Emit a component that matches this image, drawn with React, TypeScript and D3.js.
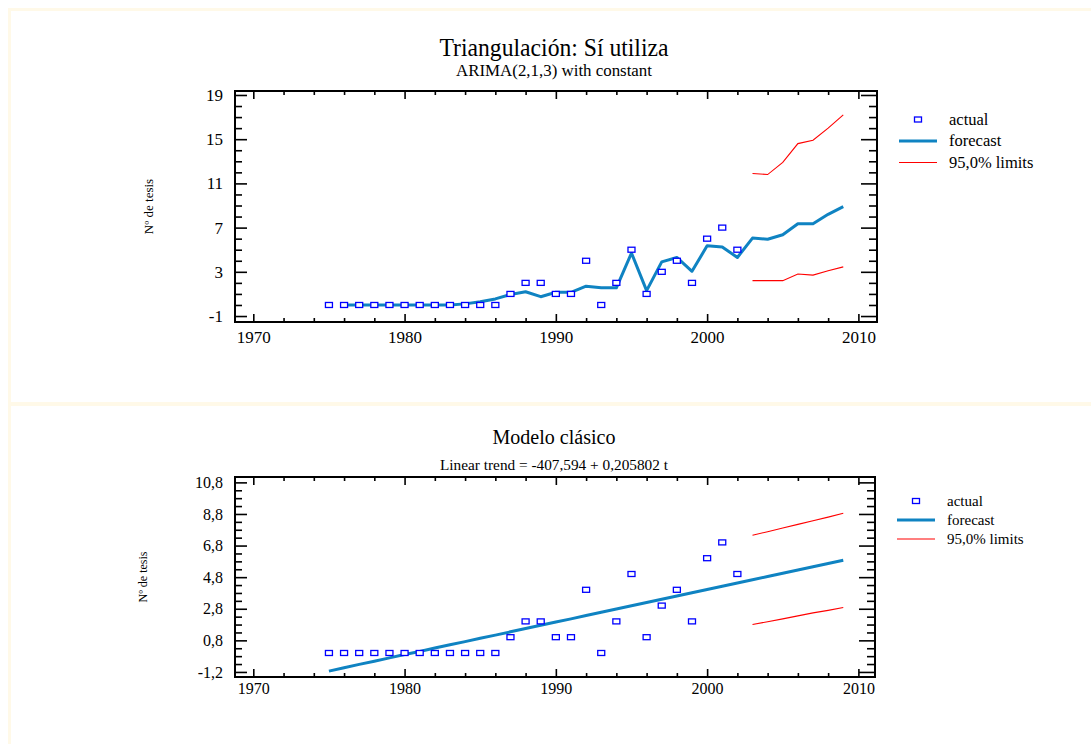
import * as d3 from "d3";
import React, { useEffect, useRef } from "react";

// observed series (same for both panels)
const actualYears = d3.range(1975, 2003);
const actualValues = [
  0, 0, 0, 0, 0, 0, 0, 0, 0, 0, 0, 0, 1, 2, 2, 1, 1, 4, 0, 2, 5, 1, 3, 4, 2, 6, 7, 5,
];

// ARIMA(2,1,3) panel
const arimaYears = d3.range(1976, 2010);
const arimaForecast = [
  0, 0, 0, 0, 0, 0, 0, 0, 0.1, 0.3, 0.55, 0.95, 1.2, 0.75, 1.15, 1.15, 1.7, 1.55,
  1.55, 4.7, 1.3, 3.9, 4.3, 3.05, 5.35, 5.25, 4.3, 6.05, 5.95, 6.35, 7.35, 7.35,
  8.2, 8.9,
];
const limitYears = d3.range(2003, 2010);
const arimaUpper = [11.9, 11.8, 12.9, 14.6, 14.9, 16.0, 17.2];
const arimaLower = [2.2, 2.2, 2.2, 2.8, 2.7, 3.1, 3.45];

// linear trend panel
const trendYears = d3.range(1975, 2010);
const trendForecast = [
  -1.15, -0.93, -0.72, -0.52, -0.31, -0.1, 0.1, 0.31, 0.52, 0.72, 0.93, 1.13,
  1.34, 1.55, 1.75, 1.96, 2.16, 2.37, 2.58, 2.78, 2.99, 3.19, 3.4, 3.61, 3.81,
  4.02, 4.22, 4.43, 4.64, 4.84, 5.05, 5.25, 5.46, 5.67, 5.87,
];
const trendUpper = [7.45, 7.68, 7.91, 8.14, 8.37, 8.6, 8.84];
const trendLower = [1.8, 1.98, 2.16, 2.35, 2.54, 2.7, 2.88];

// axis ticks
const xMajorTicks = [1970, 1980, 1990, 2000, 2010];
const xMinorTicks = d3.range(1970, 2011, 2).filter((d) => d % 10 !== 0);
const arimaYTicks = [19, 15, 11, 7, 3, -1];
const arimaYLabels = ["19", "15", "11", "7", "3", "-1"];
const trendYTicks = [10.8, 8.8, 6.8, 4.8, 2.8, 0.8, -1.2];
const trendYLabels = ["10,8", "8,8", "6,8", "4,8", "2,8", "0,8", "-1,2"];
const legendLabels = ["actual", "forecast", "95,0% limits"];

const FONT = "'Liberation Serif', 'Times New Roman', serif";
const FORECAST_COLOR = "#0f83c2";

interface PanelConfig {
  frame: { left: number; right: number; top: number; bottom: number };
  yDomain: [number, number];
  yTicks: number[];
  yLabels: string[];
  yMinor: number[];
  title: string;
  titleY: number;
  titleSize: number;
  titleLen: number;
  subtitle: string;
  subY: number;
  subSize: number;
  subLen: number;
  axisLabelX: number;
  axisLabelSize: number;
  tickFont: number;
  xPad: number;
  forecastYears: number[];
  forecast: number[];
  upper: number[];
  lower: number[];
  legend: { x: number; y: number; step: number; font: number };
}

const panels: PanelConfig[] = [
  {
    frame: { left: 235, right: 877, top: 91, bottom: 322 },
    yDomain: [-1.54, 19.36],
    yTicks: arimaYTicks,
    yLabels: arimaYLabels,
    yMinor: d3.range(-1, 20, 1).filter((d) => !arimaYTicks.includes(d)),
    title: "Triangulación: Sí utiliza",
    titleY: 56,
    titleSize: 25,
    titleLen: 229,
    subtitle: "ARIMA(2,1,3) with constant",
    subY: 76,
    subSize: 16,
    subLen: 196,
    axisLabelX: 148,
    axisLabelSize: 13,
    tickFont: 17,
    xPad: 9,
    forecastYears: arimaYears,
    forecast: arimaForecast,
    upper: arimaUpper,
    lower: arimaLower,
    legend: { x: 899, y: 119.5, step: 21.5, font: 16.5 },
  },
  {
    frame: { left: 235, right: 875, top: 477, bottom: 677 },
    yDomain: [-1.52, 11.14],
    yTicks: trendYTicks,
    yLabels: trendYLabels,
    yMinor: d3
      .range(0, 25)
      .map((i) => Math.round((-1.2 + i * 0.5) * 10) / 10)
      .filter((d) => !trendYTicks.includes(d)),
    title: "Modelo clásico",
    titleY: 444,
    titleSize: 20,
    titleLen: 123,
    subtitle: "Linear trend = -407,594 + 0,205802 t",
    subY: 470,
    subSize: 14.5,
    subLen: 228,
    axisLabelX: 143,
    axisLabelSize: 12,
    tickFont: 16,
    xPad: 6,
    forecastYears: trendYears,
    forecast: trendForecast,
    upper: trendUpper,
    lower: trendLower,
    legend: { x: 897, y: 501, step: 19, font: 15 },
  },
];

function drawPanel(svg: d3.Selection<SVGSVGElement, unknown, null, undefined>, p: PanelConfig) {
  const { frame } = p;
  const x = d3.scaleLinear().domain([1968.79, 2011.23]).range([frame.left, 877]);
  const y = d3.scaleLinear().domain(p.yDomain).range([frame.bottom, frame.top]);
  const cx = (frame.left + 877) / 2 - 2;

  // titles
  svg
    .append("text")
    .attr("x", cx)
    .attr("y", p.titleY)
    .attr("text-anchor", "middle")
    .attr("textLength", p.titleLen)
    .attr("lengthAdjust", "spacingAndGlyphs")
    .style("font-family", FONT)
    .style("font-size", `${p.titleSize}px`)
    .text(p.title);
  svg
    .append("text")
    .attr("x", cx)
    .attr("y", p.subY)
    .attr("text-anchor", "middle")
    .attr("textLength", p.subLen)
    .attr("lengthAdjust", "spacingAndGlyphs")
    .style("font-family", FONT)
    .style("font-size", `${p.subSize}px`)
    .text(p.subtitle);

  // y axis title
  svg
    .append("text")
    .attr("transform", `translate(${p.axisLabelX},${(frame.top + frame.bottom) / 2}) rotate(-90)`)
    .attr("text-anchor", "middle")
    .attr("dy", "0.35em")
    .style("font-family", FONT)
    .style("font-size", `${p.axisLabelSize}px`)
    .text("Nº de tesis");

  const styleAxis = (g: d3.Selection<SVGGElement, unknown, null, undefined>) => {
    g.select(".domain").remove();
    g.selectAll("line").attr("stroke", "#000").attr("stroke-width", 1.6);
    g.selectAll("text")
      .attr("fill", "#000")
      .style("font-family", FONT)
      .style("font-size", `${p.tickFont}px`);
  };

  // bottom
  svg
    .append("g")
    .attr("transform", `translate(0,${frame.bottom})`)
    .call(d3.axisBottom(x).tickValues(xMajorTicks).tickSize(-8).tickPadding(p.xPad).tickFormat((d) => String(d)))
    .call(styleAxis);
  svg
    .append("g")
    .attr("transform", `translate(0,${frame.bottom})`)
    .call(d3.axisBottom(x).tickValues(xMinorTicks).tickSize(-4).tickFormat(() => ""))
    .call(styleAxis);
  // top
  svg
    .append("g")
    .attr("transform", `translate(0,${frame.top})`)
    .call(d3.axisTop(x).tickValues(xMajorTicks).tickSize(-8).tickFormat(() => ""))
    .call(styleAxis);
  svg
    .append("g")
    .attr("transform", `translate(0,${frame.top})`)
    .call(d3.axisTop(x).tickValues(xMinorTicks).tickSize(-4).tickFormat(() => ""))
    .call(styleAxis);
  // left
  svg
    .append("g")
    .attr("transform", `translate(${frame.left},0)`)
    .call(
      d3
        .axisLeft(y)
        .tickValues(p.yTicks)
        .tickSize(-12)
        .tickPadding(12)
        .tickFormat((d, i) => p.yLabels[i]),
    )
    .call(styleAxis);
  svg
    .append("g")
    .attr("transform", `translate(${frame.left},0)`)
    .call(d3.axisLeft(y).tickValues(p.yMinor).tickSize(-7).tickFormat(() => ""))
    .call(styleAxis);
  // right
  svg
    .append("g")
    .attr("transform", `translate(${frame.right},0)`)
    .call(d3.axisRight(y).tickValues(p.yTicks).tickSize(-16).tickFormat(() => ""))
    .call(styleAxis);
  svg
    .append("g")
    .attr("transform", `translate(${frame.right},0)`)
    .call(d3.axisRight(y).tickValues(p.yMinor).tickSize(-8).tickFormat(() => ""))
    .call(styleAxis);

  // frame
  svg
    .append("rect")
    .attr("x", frame.left)
    .attr("y", frame.top)
    .attr("width", frame.right - frame.left)
    .attr("height", frame.bottom - frame.top)
    .attr("fill", "none")
    .attr("stroke", "#000")
    .attr("stroke-width", 2);

  const line = d3
    .line<[number, number]>()
    .x((d) => x(d[0]))
    .y((d) => y(d[1]));

  // limits
  [p.upper, p.lower].forEach((vals) => {
    svg
      .append("path")
      .attr("d", line(limitYears.map((yr, i) => [yr, vals[i]]))!)
      .attr("fill", "none")
      .attr("stroke", "#ff0000")
      .attr("stroke-width", 1.1);
  });

  // forecast
  svg
    .append("path")
    .attr("d", line(p.forecastYears.map((yr, i) => [yr, p.forecast[i]]))!)
    .attr("fill", "none")
    .attr("stroke", FORECAST_COLOR)
    .attr("stroke-width", 3)
    .attr("stroke-linejoin", "round");

  // actual markers
  svg
    .append("g")
    .selectAll("rect")
    .data(actualYears.map((yr, i) => [yr, actualValues[i]]))
    .join("rect")
    .attr("x", (d) => x(d[0]) - 3.5)
    .attr("y", (d) => y(d[1]) - 2.5)
    .attr("width", 7)
    .attr("height", 5)
    .attr("fill", "#fff")
    .attr("stroke", "#0000ff")
    .attr("stroke-width", 1.3);

  // legend
  const lg = svg.append("g").style("font-family", FONT).style("font-size", `${p.legend.font}px`);
  legendLabels.forEach((lab, i) => {
    const ly = p.legend.y + i * p.legend.step;
    if (i === 0) {
      lg.append("rect")
        .attr("x", p.legend.x + 19 - 3.5)
        .attr("y", ly - 2.5)
        .attr("width", 7)
        .attr("height", 5)
        .attr("fill", "#fff")
        .attr("stroke", "#0000ff")
        .attr("stroke-width", 1.3);
    } else {
      lg.append("line")
        .attr("x1", p.legend.x)
        .attr("x2", p.legend.x + 38)
        .attr("y1", ly)
        .attr("y2", ly)
        .attr("stroke", i === 1 ? FORECAST_COLOR : "#ff0000")
        .attr("stroke-width", i === 1 ? 3 : 1.1);
    }
    lg.append("text")
      .attr("x", p.legend.x + 50)
      .attr("y", ly)
      .attr("dy", "0.32em")
      .attr("fill", "#000")
      .text(lab);
  });
}

const App: React.FC = () => {
  const svgRef = useRef<SVGSVGElement>(null);

  useEffect(() => {
    if (!svgRef.current) return;
    const svg = d3.select(svgRef.current);
    svg.selectAll("*").remove();

    svg.append("rect").attr("width", 1091).attr("height", 744).attr("fill", "#fff");

    // pale panel borders
    const border = "#fff9e8";
    svg.append("rect").attr("x", 8).attr("y", 8).attr("width", 1083).attr("height", 3).attr("fill", border);
    svg.append("rect").attr("x", 8).attr("y", 8).attr("width", 3).attr("height", 736).attr("fill", border);
    svg.append("rect").attr("x", 8).attr("y", 402).attr("width", 1083).attr("height", 4).attr("fill", border);

    panels.forEach((p) => drawPanel(svg, p));
  }, []);

  return (
    <svg
      ref={svgRef}
      width={1091}
      height={744}
      style={{ position: "absolute", left: 0, top: 0, display: "block" }}
    />
  );
};

export default App;
